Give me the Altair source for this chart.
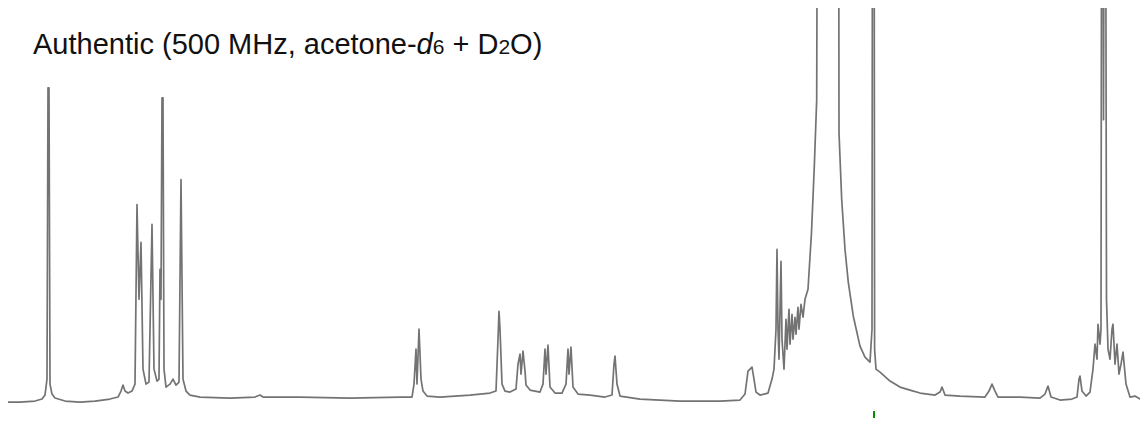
import altair as alt
import pandas as pd

OFF = 900  # peaks that run off the top of the plot

shift = [8, 20, 35, 42, 45, 47, 48, 49, 50, 52, 55, 65, 80, 95, 110, 118, 121, 123, 125, 128,
         132, 135, 137, 139, 141, 143, 146, 149, 152, 154, 157, 159, 160, 161, 162, 163, 164, 166, 170, 173,
         176, 179, 181, 183, 186, 190, 200, 230, 255, 260, 263, 300, 350, 400, 412, 414, 416, 417, 419, 421,
         423, 427, 440, 470, 490, 496, 498, 499, 500, 502, 505, 510, 516, 518, 520, 521, 523, 525, 526, 530,
         540, 543, 545, 546, 548, 550, 555, 562, 566, 568, 569, 571, 573, 578, 590, 605, 612, 614, 615, 617,
         620, 640, 680, 720, 740, 745, 748, 750, 752, 754, 756, 760, 768, 772, 774, 776, 777, 778, 779, 781,
         782, 784, 786, 787, 789, 790, 792, 793, 795, 796, 798, 799, 801, 803, 805, 808, 811.5, 814.3, 816.7, 818.3,
         838.3, 839, 841.7, 845, 848.3, 853.3, 860, 865, 870, 872, 872.8, 873.8, 874.6, 876, 880, 890,
         900, 910, 920, 935, 940, 942, 945, 960, 985, 989, 992, 995, 998, 1020, 1040, 1045, 1048, 1051, 1060, 1072,
         1077, 1079, 1080, 1082, 1086, 1090, 1093, 1095, 1097, 1098, 1100, 1101, 1102, 1103.5, 1105, 1106.5, 1108, 1110, 1112, 1113,
         1115, 1117, 1119, 1121, 1123, 1126, 1130, 1135, 1140, 1148]

intensity = [15, 15, 16, 18, 22, 38, 330, 330, 33, 23, 19, 16, 15, 16, 18, 20, 26, 32, 26, 24,
             26, 33, 213, 118, 175, 48, 33, 35, 193, 48, 36, 38, 148, 118, 320, 320, 48, 30, 33, 38,
             32, 35, 238, 38, 26, 22, 20, 19, 20, 22, 20, 20, 19, 20, 20, 33, 68, 33, 88, 38,
             26, 21, 20, 22, 24, 26, 78, 106, 88, 33, 26, 25, 28, 53, 63, 43, 66, 46, 32, 27,
             25, 33, 68, 43, 72, 30, 24, 24, 33, 68, 43, 70, 30, 23, 22, 20, 22, 53, 61, 33,
             21, 18, 16, 16, 17, 23, 46, 48, 50, 38, 25, 22, 24, 38, 48, 88, 168, 88, 58, 156,
             78, 48, 98, 68, 108, 73, 103, 78, 100, 83, 110, 88, 113, 100, 118, 128, 185, 251, 318, OFF,
             OFF, 285, 218, 168, 135, 101, 71, 60, 55, 88, OFF, OFF, 68, 48, 45, 36,
             30, 27, 24, 22, 25, 30, 22, 21, 20, 26, 33, 26, 20, 20, 19, 23, 31, 20, 17, 18,
             20, 38, 41, 26, 21, 25, 48, 73, 58, 93, 73, 88, OFF, 298, OFF, 118, 68, 58, 88, 93,
             53, 73, 43, 53, 65, 33, 20, 21, 18, 13]

marker_shift = [874]

title_main = "Authentic (500 MHz, acetone-"
title_italic = "d"
title_sub1 = "6"
title_mid = "+ D"
title_sub2 = "2"
title_end = "O)"

df = pd.DataFrame({"shift": shift, "intensity": intensity})
df_marker = pd.DataFrame({"shift": marker_shift})

xs = alt.Scale(domain=[8, 1140])
ys = alt.Scale(domain=[0, 410])

spectrum = alt.Chart(df).mark_line(
    color="#6c6c6c", strokeWidth=1.7, clip=True, strokeJoin="round", opacity=0.95
).encode(
    x=alt.X("shift:Q", scale=xs, axis=None),
    y=alt.Y("intensity:Q", scale=ys, axis=None),
)

marker = alt.Chart(df_marker).mark_rule(color="#0a8a0a", strokeWidth=2).encode(
    x=alt.X("shift:Q", scale=xs, axis=None),
    y=alt.value(403),
    y2=alt.value(410),
)

FONT = "Liberation Sans"
BASE_Y = 46


def piece(txt, xpos, size, style="normal"):
    return alt.Chart(pd.DataFrame({"t": [txt]})).mark_text(
        align="left", baseline="alphabetic", font=FONT, fontSize=size,
        fontStyle=style, color="#111111"
    ).encode(text="t:N", x=alt.value(xpos), y=alt.value(BASE_Y))


texts = [
    piece(title_main, 25, 29),
    piece(title_italic, 408.6, 29, "italic"),
    piece(title_sub1, 424.7, 21),
    piece(title_mid, 444.5, 29),
    piece(title_sub2, 490.4, 21),
    piece(title_end, 502.1, 29),
]

chart = alt.layer(spectrum, marker, *texts).properties(
    width=1132, height=410, padding=0, background="white",
    autosize=alt.AutoSizeParams(type="fit", contains="padding"),
).configure_view(stroke=None)

chart.save("out.html", embed_options={"renderer": "svg", "actions": False})
